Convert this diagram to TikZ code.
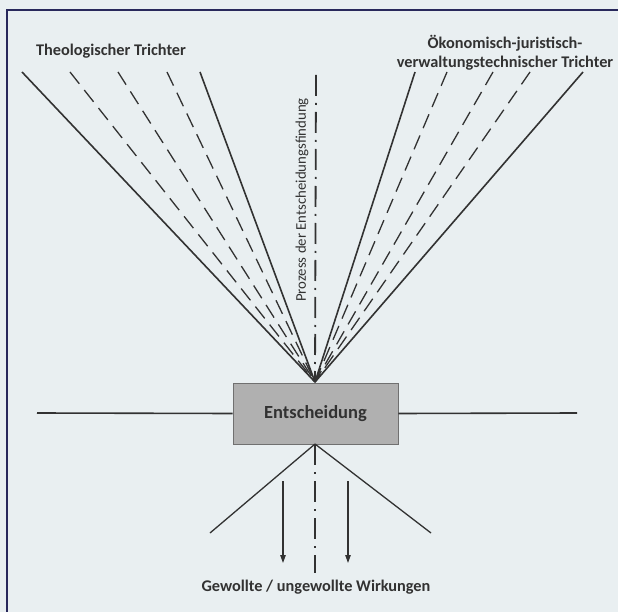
\documentclass[tikz,border=0pt]{standalone}
\usepackage{fontspec}
\setmainfont{Carlito}
\usetikzlibrary{arrows.meta}
\definecolor{bg}{RGB}{233,239,241}
\definecolor{ink}{RGB}{50,50,50}
\definecolor{boxfill}{RGB}{176,176,176}
\tikzset{
  solidline/.style={draw=ink, line width=1.6pt},
  dashline/.style={draw=ink, line width=1.3pt, dash pattern=on 15pt off 8pt},
  axisline/.style={draw=ink, line width=1.8pt, dash pattern=on 21pt off 7pt on 2pt off 7pt},
  framestyle/.style={draw=ink!80!blue, line width=2.2pt},
  title/.style={font=\bfseries\fontsize{16.3}{19}\selectfont, text=ink, align=center, inner sep=0pt},
  effect/.style={-{Triangle[length=8pt,width=5.5pt]}, draw=ink, line width=1.1pt},
}
\begin{document}
\begin{tikzpicture}[x=1pt,y=-1pt]
\fill[bg] (0,0) rectangle (618,612);
\useasboundingbox (0,0) rectangle (618,612);
% frame (cut off at right and bottom)
\draw[framestyle] (7,612) -- (7,10) -- (618,10);

% apex and points
\coordinate (apex) at (315,382);
\coordinate (L1) at (22,72);
\coordinate (L2) at (70,72);
\coordinate (L3) at (118,72);
\coordinate (L4) at (167,72);
\coordinate (L5) at (200,72);
\coordinate (R1) at (415,72);
\coordinate (R2) at (447,72);
\coordinate (R3) at (493,72);
\coordinate (R4) at (530,72);
\coordinate (R5) at (583,72);
\coordinate (axtop) at (316,75);

% funnels
\draw[solidline] (L1) -- (apex);
\draw[dashline] (L2) -- (apex);
\draw[dashline] (L3) -- (apex);
\draw[dashline] (L4) -- (apex);
\draw[solidline] (L5) -- (apex);
\draw[solidline] (R1) -- (apex);
\draw[dashline] (R2) -- (apex);
\draw[dashline] (R3) -- (apex);
\draw[dashline] (R4) -- (apex);
\draw[solidline] (R5) -- (apex);

% central axis
\draw[axisline] (axtop) -- (apex);

% decision box
\node[draw=ink!70, fill=boxfill, line width=0.6pt, minimum width=165pt, minimum height=61pt, inner sep=0pt,
      font=\bfseries\fontsize{18.5}{22}\selectfont, text=ink] (box) at (315.5,413.5) {Entscheidung};

% horizontal lines
\coordinate (hl) at (37,413);
\coordinate (hr) at (577,413);
\draw[solidline] (hl) -- (box.west);
\draw[solidline] (box.east) -- (hr);

% lower part
\coordinate (bapex) at (315,444);
\coordinate (bl) at (210,533);
\coordinate (br) at (431,533);
\coordinate (axmid) at (315,481);
\coordinate (axbot) at (315,573);
\draw[solidline, line width=1.3pt] (bapex) -- (bl);
\draw[solidline, line width=1.3pt] (bapex) -- (br);
\draw[axisline] (bapex) -- (axbot);
\coordinate (a1s) at (283,481);
\coordinate (a1e) at (283,563);
\coordinate (a2s) at (348,481);
\coordinate (a2e) at (348,563);
\draw[effect] (a1s) -- (a1e);
\draw[effect] (a2s) -- (a2e);

% texts
\node[title] (tl) at (111,51) {Theologischer Trichter};
\node[title] (tr) at (505,53) {Ökonomisch-juristisch-\\verwaltungstechnischer Trichter};
\node[title] (tb) at (316,587) {Gewollte / ungewollte Wirkungen};
\node[rotate=90, font=\fontsize{14.8}{17}\selectfont, text=ink, inner sep=0pt] (proc) at (302,200) {Prozess der Entscheidungsfindung};
\end{tikzpicture}
\end{document}
